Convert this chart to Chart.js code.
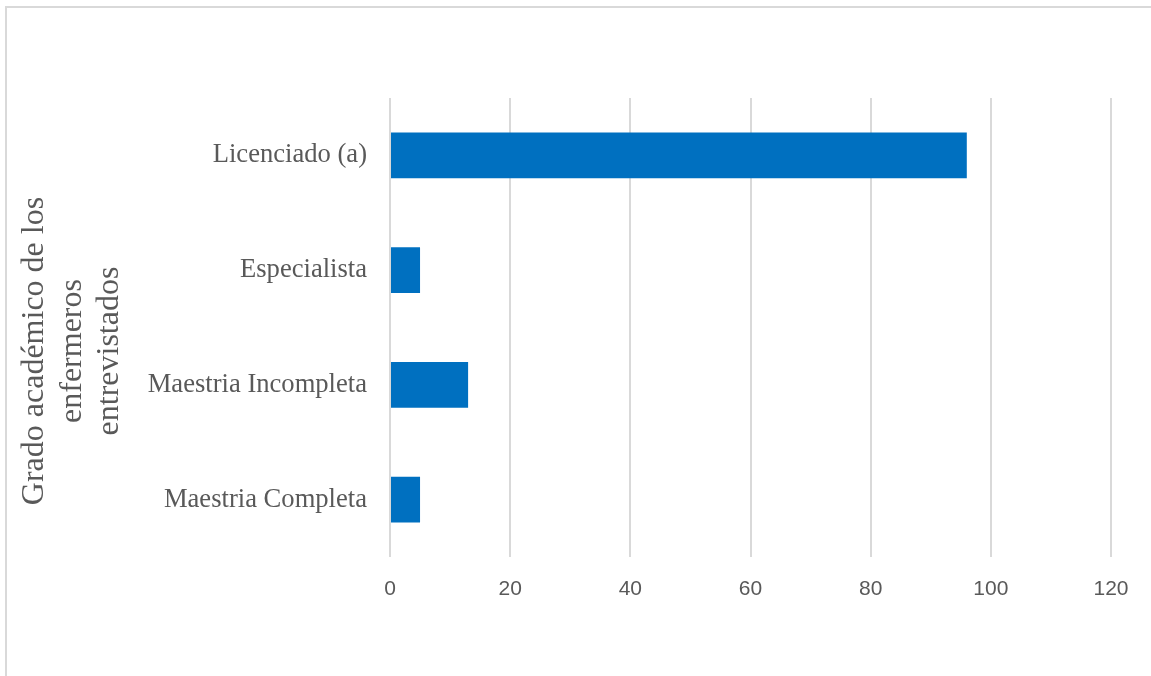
<!DOCTYPE html>
<html><head><meta charset="utf-8">
<script src="https://cdn.jsdelivr.net/npm/chart.js@4"></script>
<style>
html,body{margin:0;padding:0;background:#fff;}
#frame{position:absolute;left:5px;top:6px;width:1200px;height:720px;border-left:2px solid #d9d9d9;border-top:2px solid #d9d9d9;}
#wrap{position:absolute;left:0;top:0;width:1151px;height:676px;}
</style></head>
<body>
<div id="frame"></div>
<div id="wrap"><canvas id="c" width="1151" height="676"></canvas></div>
<script>
const categories = ["Licenciado (a)", "Especialista", "Maestria Incompleta", "Maestria Completa"];
const values = [96, 5, 13, 5];
const axisTitleLines = ["Grado académico de los", "enfermeros", "entrevistados"];
const xMin = 0, xMax = 120, xStep = 20;

const titlePlugin = {
  id: 'ytitle',
  afterDraw(chart) {
    const ctx = chart.ctx;
    ctx.save();
    ctx.fillStyle = '#595959';
    ctx.font = '32px "Liberation Serif", "Times New Roman", serif';
    ctx.textAlign = 'center';
    ctx.textBaseline = 'middle';
    const cy = 351;
    const xs = [35, 73, 110];
    axisTitleLines.forEach((t, i) => {
      ctx.save();
      ctx.translate(xs[i], cy);
      ctx.rotate(-Math.PI / 2);
      ctx.fillText(t, 0, 0);
      ctx.restore();
    });
    ctx.restore();
  }
};

new Chart(document.getElementById('c'), {
  type: 'bar',
  data: {
    labels: categories,
    datasets: [{
      data: values,
      backgroundColor: '#0070C0',
      borderWidth: 0,
      barPercentage: 0.4,
      categoryPercentage: 1.0
    }]
  },
  options: {
    indexAxis: 'y',
    responsive: false,
    animation: false,
    layout: { padding: { top: 98, right: 40, left: 0, bottom: 0 } },
    plugins: { legend: { display: false }, tooltip: { enabled: false } },
    scales: {
      x: {
        min: xMin, max: xMax,
        ticks: { stepSize: xStep, color: '#595959', padding: 20,
                 font: { family: '"Liberation Sans", Arial, sans-serif', size: 21 } },
        grid: { color: '#d9d9d9', lineWidth: 2, drawTicks: false },
        border: { display: false },
        afterFit(s) { s.height = 119; }
      },
      y: {
        ticks: { color: '#595959', padding: 23,
                 font: { family: '"Liberation Serif", "Times New Roman", serif', size: 26.6 } },
        grid: { display: false, drawTicks: false },
        border: { display: false },
        afterFit(s) { s.width = 390; }
      }
    }
  },
  plugins: [titlePlugin]
});
</script>
</body></html>
